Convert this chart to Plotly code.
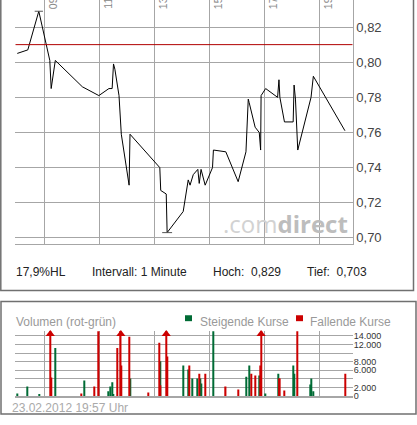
import plotly.graph_objects as go

W, H = 417, 425

# intraday prices (1 minute interval)
price_times = ["08:01", "08:24", "08:48", "09:12", "09:15", "09:24", "10:23", "10:59",
               "11:21", "11:28", "11:31", "11:34", "11:43", "11:48", "12:05", "12:07",
               "13:12", "13:14", "13:26", "13:28", "14:03", "14:14", "14:18", "14:25",
               "14:35", "14:38", "14:42", "14:51", "15:07", "15:09", "15:36", "16:03",
               "16:20", "16:25", "16:27", "16:40", "16:49", "16:52", "16:53", "17:03",
               "17:29", "17:32", "17:34", "17:44", "18:03", "18:05", "18:08", "18:13",
               "18:42", "18:47", "19:56"]
price_values = [0.805, 0.807, 0.829, 0.801, 0.785, 0.801, 0.786, 0.781,
                0.785, 0.785, 0.799, 0.796, 0.781, 0.759, 0.730, 0.759,
                0.740, 0.727, 0.725, 0.703, 0.715, 0.733, 0.730, 0.736,
                0.739, 0.731, 0.739, 0.730, 0.740, 0.750, 0.749, 0.732,
                0.749, 0.779, 0.777, 0.763, 0.760, 0.750, 0.781, 0.785,
                0.780, 0.790, 0.780, 0.766, 0.766, 0.787, 0.779, 0.750,
                0.780, 0.792, 0.761]
prev_close = 0.810

# volume, rising prices (green)
up_times = ["08:01", "08:23", "08:49", "09:24", "10:27", "11:19", "11:24", "11:28",
            "11:30", "12:07", "13:13", "14:03", "14:14", "14:23", "14:34", "14:40",
            "14:42", "15:09", "16:20", "16:27", "16:49", "17:03", "17:31", "18:03",
            "18:05", "18:40", "18:43", "18:47"]
up_volumes = [600, 2200, 400, 11200, 3600, 1100, 2200, 3200,
              400, 4100, 8100, 7100, 6200, 4100, 4100, 4100,
              2900, 15100, 4500, 7100, 4800, 600, 5200, 7100,
              5200, 2700, 4100, 1100]

# volume, falling prices (red)
down_times = ["09:13", "09:15", "10:21", "10:49", "10:59", "11:39", "11:47", "11:48",
              "12:05", "12:47", "13:11", "13:14", "13:26", "13:28", "14:16", "14:38",
              "14:51", "15:36", "16:03", "16:31", "16:40", "16:51", "16:53", "17:33",
              "17:34", "17:44", "18:12", "19:56"]
down_volumes = [18000, 4300, 600, 2200, 15100, 11200, 18000, 7100,
                13800, 800, 12400, 2500, 18000, 9200, 7100, 5200,
                5200, 2200, 1500, 5200, 4800, 7100, 18000, 4100,
                4100, 1300, 15100, 5200]

hour_ticks = [9, 11, 13, 15, 17, 19]
hour_labels = ["09", "11", "13", "15", "17", "19"]
price_ticks = [0.70, 0.72, 0.74, 0.76, 0.78, 0.80, 0.82]
vol_ticks = [0, 2000, 4000, 6000, 8000, 10000, 12000, 14000]
vol_tick_labels = ["0", "2.000", "", "6.000", "8.000", "", "12.000", "14.000"]

hl_text = "17,9%HL"
interval_text = "Intervall: 1 Minute"
date_text = "23.02.2012 19:57 Uhr"

GREEN = "#006b35"
RED = "#cc0000"
GRID = "#a6a6a6"
FONT = "Liberation Sans, Arial, sans-serif"

X_RANGE = [7.945, 20.215]
VOL_MAX = 15150


def hours(t):
    h, m = t.split(":")
    return int(h) + int(m) / 60


def px(x):
    return x / W


def py(y):
    return 1 - y / H


def num(v):
    return f"{v:.3f}".replace(".", ",")


pt = [hours(t) for t in price_times]
ut = [hours(t) for t in up_times]
dt = [hours(t) for t in down_times]

fig = go.Figure()

fig.add_trace(go.Scatter(x=pt, y=price_values, mode="lines",
                         line=dict(color="black", width=1), xaxis="x", yaxis="y"))
fig.add_trace(go.Bar(x=ut, y=up_volumes, width=0.045, marker=dict(color=GREEN, line_width=0),
                     xaxis="x2", yaxis="y2"))
fig.add_trace(go.Bar(x=dt, y=down_volumes, width=0.045, marker=dict(color=RED, line_width=0),
                     xaxis="x2", yaxis="y2"))

# arrows for volumes above the scale
over = [t for t, v in zip(dt + ut, down_volumes + up_volumes) if v > VOL_MAX]
fig.add_trace(go.Scatter(x=over, y=[14450] * len(over), mode="markers",
                         marker=dict(symbol="triangle-up", size=8, color=RED),
                         cliponaxis=False, xaxis="x2", yaxis="y2"))

hi = max(price_values)
lo = min(price_values)
t_hi = pt[price_values.index(hi)]
t_lo = pt[price_values.index(lo)]

shapes = [
    dict(type="line", xref="x", yref="y", x0=X_RANGE[0], x1=X_RANGE[1], y0=prev_close, y1=prev_close,
         line=dict(color="#b00000", width=1)),
    dict(type="line", xref="x", yref="y", x0=t_hi - 0.15, x1=t_hi + 0.15, y0=hi, y1=hi,
         line=dict(color="#555", width=1)),
    dict(type="line", xref="x", yref="y", x0=t_lo - 0.18, x1=t_lo + 0.18, y0=lo, y1=lo,
         line=dict(color="#555", width=1)),
    # panel frames
    dict(type="rect", xref="paper", yref="paper", x0=px(0.8), x1=px(413.5), y0=py(294), y1=py(-5),
         line=dict(color="#707070", width=1.5)),
    dict(type="rect", xref="paper", yref="paper", x0=px(1), x1=px(416), y0=py(419), y1=py(305),
         line=dict(color="#707070", width=1.5)),
    # legend squares
    dict(type="rect", xref="paper", yref="paper", x0=px(185), x1=px(192), y0=py(325), y1=py(319),
         fillcolor=GREEN, line_width=0),
    dict(type="rect", xref="paper", yref="paper", x0=px(296), x1=px(303), y0=py(325), y1=py(319),
         fillcolor=RED, line_width=0),
]

ann = []
for t, lab in zip(hour_ticks, hour_labels):
    ann.append(dict(xref="x", yref="paper", x=t, y=py(11), text=lab, textangle=-90,
                    showarrow=False, xanchor="left", yanchor="bottom", xshift=1,
                    font=dict(size=10.5, color="#888")))


def label(x, y, text, size=12, color="#222", anchor="left"):
    # small downward shift so the glyphs sit where the reference has them
    ann.append(dict(xref="paper", yref="paper", x=px(x), y=py(y + 3.5), text=text, showarrow=False,
                    xanchor=anchor, yanchor="middle", font=dict(size=size, color=color)))


label(14, 272, hl_text)
label(90, 272, interval_text)
label(211, 272, "Hoch:\u00a0 " + num(hi))
label(305, 272, "Tief:\u00a0 " + num(lo))
label(14, 322, "Volumen (rot-grün)", color="#999")
label(198, 322, "Steigende Kurse", color="#999")
label(308, 322, "Fallende Kurse", color="#999")
label(10, 409, date_text, color="#aaa")

# watermark
ann.append(dict(xref="paper", yref="paper", x=px(285), y=py(226),
                text="<span style='color:#d2d2d2'>.com</span><b style='color:#bdbdbd'>direct</b>",
                showarrow=False, xanchor="center", yanchor="middle",
                font=dict(size=24, family="Open Sans, sans-serif")))

fig.update_layout(
    width=W, height=H,
    margin=dict(l=0, r=0, t=0, b=0),
    paper_bgcolor="white", plot_bgcolor="white",
    showlegend=False, barmode="overlay",
    separators=",.",
    font=dict(family=FONT, color="#222"),
    shapes=shapes, annotations=ann,
    xaxis=dict(domain=[px(15.3), px(352.7)], range=X_RANGE, tickvals=hour_ticks,
               showticklabels=False, showgrid=True, gridcolor=GRID, gridwidth=1,
               zeroline=False, showline=True, linecolor=GRID, linewidth=1, fixedrange=True),
    yaxis=dict(domain=[py(247.3), 1], range=[0.6963, 0.8354], side="right",
               tickvals=price_ticks, tickformat=".2f", showgrid=True, gridcolor=GRID,
               zeroline=False, showline=True, linecolor=GRID, linewidth=1,
               tickfont=dict(size=13, color="#444"), fixedrange=True),
    xaxis2=dict(domain=[px(15.3), px(352.7)], range=X_RANGE, tickvals=hour_ticks, anchor="y2",
                showticklabels=False, showgrid=True, gridcolor=GRID, gridwidth=1,
                zeroline=False, showline=True, linecolor=GRID, linewidth=2, fixedrange=True),
    yaxis2=dict(domain=[py(400.7), py(335)], range=[0, VOL_MAX], side="right", anchor="x2",
                tickvals=vol_ticks, ticktext=vol_tick_labels, showgrid=True, gridcolor=GRID,
                zeroline=False, showline=False, tickfont=dict(size=9, color="#333"),
                fixedrange=True),
)

fig.write_html("out.html", config={"displayModeBar": False},
               post_script="document.body.style.margin='0';")
